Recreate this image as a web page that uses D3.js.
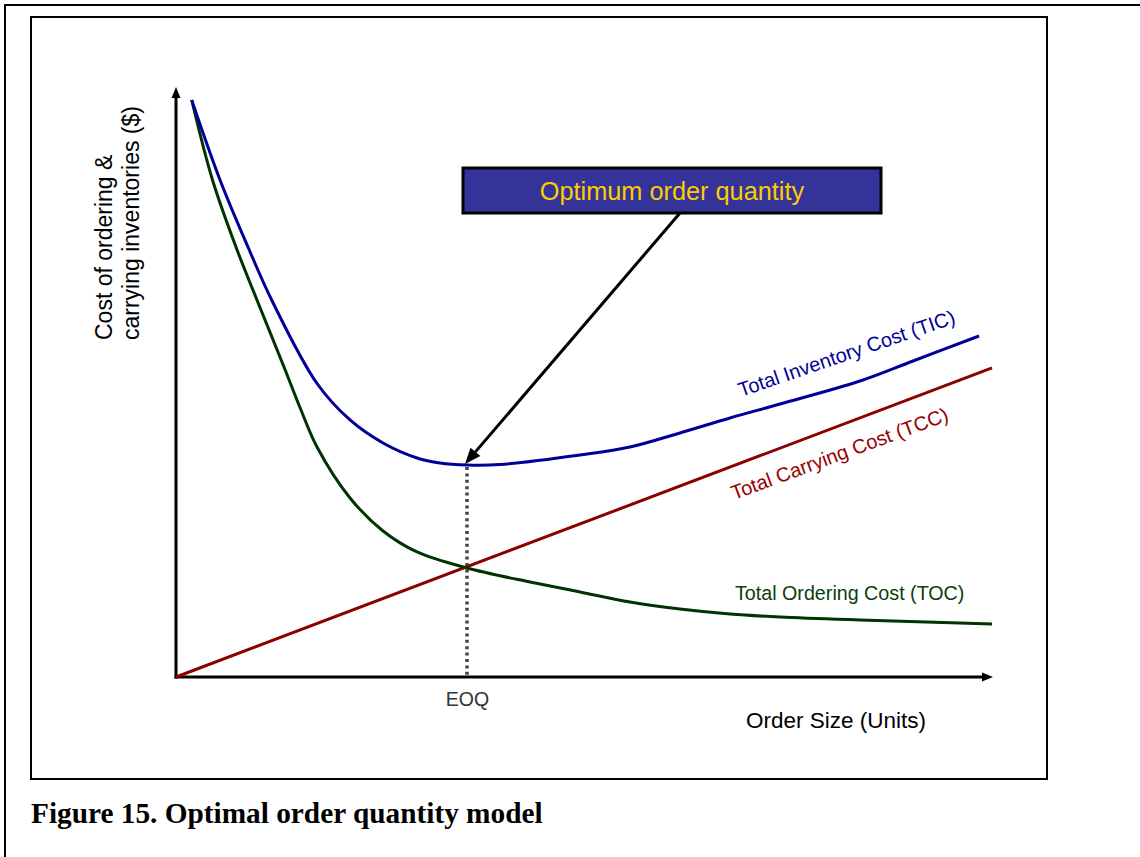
<!DOCTYPE html>
<html>
<head>
<meta charset="utf-8">
<script src="https://cdn.jsdelivr.net/npm/d3@7"></script>
<style>
  html, body { margin: 0; padding: 0; background: #fff; }
  svg { display: block; }
</style>
</head>
<body>
<svg id="chart" width="1140" height="857"></svg>
<script>
// Order size (x) and cost (y) on a 0–100 relative scale.
const ticX = [1.92, 5.39, 8.81, 11.71, 17.22, 21.30, 25.34, 29.50, 32.31, 35.62, 39.66, 49.45, 55.57, 61.69, 67.81, 73.93, 83.72, 90.21, 98.29];
const ticY = [97.80, 84.24, 72.88, 63.90, 49.83, 43.56, 39.66, 37.12, 36.27, 35.93, 36.02, 37.63, 38.98, 41.36, 43.90, 46.27, 50.17, 53.56, 57.80];

const tocX = [1.92, 4.47, 7.34, 9.91, 13.22, 15.30, 17.26, 21.30, 25.34, 29.50, 35.62, 43.33, 49.45, 55.57, 61.69, 67.81, 73.93, 83.72, 99.88];
const tocY = [97.80, 84.24, 72.88, 63.90, 52.54, 45.25, 38.98, 30.34, 24.75, 21.19, 18.47, 16.10, 14.41, 12.71, 11.53, 10.68, 10.17, 9.66, 8.98];

const tccX = [0, 99.88];
const tccY = [0, 52.4];

const eoq = 35.62;
const eoqCost = 35.93;

const seriesLabels = ["Total Inventory Cost (TIC)", "Total Carrying Cost (TCC)", "Total Ordering Cost (TOC)"];
const eoqLabel = "EOQ";
const xTitle = "Order Size (Units)";
const yTitle = ["Cost of ordering &", "carrying inventories ($)"];
const calloutText = "Optimum order quantity";
const caption = "Figure 15. Optimal order quantity model";

const svg = d3.select("#chart");
const sans = "'Liberation Sans', Arial, Helvetica, sans-serif";

// Frames
svg.append("path").attr("d", "M5,857V5H1140")
  .attr("fill", "none").attr("stroke", "#000").attr("stroke-width", 2);
svg.append("rect").attr("x", 31).attr("y", 17).attr("width", 1016).attr("height", 762)
  .attr("fill", "none").attr("stroke", "#000").attr("stroke-width", 2);

const x = d3.scaleLinear().domain([0, 100]).range([176, 993]);
const y = d3.scaleLinear().domain([0, 100]).range([677, 87]);

// Axes with arrowheads
const axisColor = "#000";
svg.append("line")
  .attr("x1", x(0)).attr("y1", y(0) + 1.5).attr("x2", x(0)).attr("y2", y(100) + 8)
  .attr("stroke", axisColor).attr("stroke-width", 3);
svg.append("path")
  .attr("d", `M${x(0)},${y(100)}L${x(0) - 4.5},${y(100) + 11}L${x(0) + 4.5},${y(100) + 11}Z`)
  .attr("fill", axisColor);
svg.append("line")
  .attr("x1", x(0) - 1.5).attr("y1", y(0)).attr("x2", x(100) - 8).attr("y2", y(0))
  .attr("stroke", axisColor).attr("stroke-width", 3);
svg.append("path")
  .attr("d", `M${x(100)},${y(0)}L${x(100) - 11},${y(0) - 4.5}L${x(100) - 11},${y(0) + 4.5}Z`)
  .attr("fill", axisColor);

// EOQ tick label via a bottom axis
const xAxis = d3.axisBottom(x).tickValues([eoq]).tickFormat(() => eoqLabel).tickSize(0).tickPadding(10);
const gx = svg.append("g").attr("transform", `translate(0,${y(0)})`).call(xAxis);
gx.select(".domain").remove();
gx.selectAll("text").attr("font-family", sans).attr("font-size", 19.5).attr("fill", "#333").attr("dy", "0.95em");

// Dotted drop line at EOQ
svg.append("line")
  .attr("x1", x(eoq)).attr("x2", x(eoq)).attr("y1", y(eoqCost) + 2).attr("y2", y(0))
  .attr("stroke", "#444").attr("stroke-width", 3.5).attr("stroke-dasharray", "3,3.4");

const line = d3.line().x(d => x(d[0])).y(d => y(d[1])).curve(d3.curveCatmullRom.alpha(0.5));
const zip = (a, b) => a.map((v, i) => [v, b[i]]);

svg.append("path").datum(zip(tccX, tccY)).attr("d", line)
  .attr("fill", "none").attr("stroke", "#8B0000").attr("stroke-width", 3);
svg.append("path").datum(zip(tocX, tocY)).attr("d", line)
  .attr("fill", "none").attr("stroke", "#003300").attr("stroke-width", 3);
svg.append("path").datum(zip(ticX, ticY)).attr("d", line)
  .attr("fill", "none").attr("stroke", "#000099").attr("stroke-width", 3);

// Series labels
svg.append("text").attr("transform", "translate(741,397) rotate(-19)")
  .attr("font-family", sans).attr("font-size", 20).attr("fill", "#000099").text(seriesLabels[0]);
svg.append("text").attr("transform", "translate(734,500) rotate(-20.3)")
  .attr("font-family", sans).attr("font-size", 20).attr("fill", "#990000").text(seriesLabels[1]);
svg.append("text").attr("x", 735).attr("y", 600)
  .attr("font-family", sans).attr("font-size", 19.7).attr("fill", "#0b3d0b").text(seriesLabels[2]);

// Axis titles
svg.append("text").attr("x", 746).attr("y", 728)
  .attr("font-family", sans).attr("font-size", 22.5).attr("fill", "#000").text(xTitle);
yTitle.forEach((t, i) => {
  svg.append("text")
    .attr("transform", `translate(${112 + i * 27},340) rotate(-90)`)
    .attr("font-family", sans).attr("font-size", 23).attr("fill", "#000").text(t);
});

// Callout box and arrow to the minimum of the total cost curve
const box = { x: 463, y: 168, w: 418, h: 45 };
const tipX = x(eoq) - 2, tipY = y(eoqCost) - 1;
const fromX = 680, fromY = box.y + box.h;
const ang = Math.atan2(tipY - fromY, tipX - fromX);
const headLen = 16, headHalf = 6.5;
const bx = tipX - headLen * Math.cos(ang), by = tipY - headLen * Math.sin(ang);
svg.append("line").attr("x1", fromX).attr("y1", fromY).attr("x2", bx).attr("y2", by)
  .attr("stroke", "#000").attr("stroke-width", 3);
svg.append("path")
  .attr("d", `M${tipX},${tipY}L${bx + headHalf * Math.sin(ang)},${by - headHalf * Math.cos(ang)}L${bx - headHalf * Math.sin(ang)},${by + headHalf * Math.cos(ang)}Z`)
  .attr("fill", "#000");

svg.append("rect").attr("x", box.x).attr("y", box.y).attr("width", box.w).attr("height", box.h)
  .attr("fill", "#333399").attr("stroke", "#000").attr("stroke-width", 3);
svg.append("text").attr("x", box.x + box.w / 2).attr("y", box.y + 32)
  .attr("text-anchor", "middle").attr("font-family", sans).attr("font-size", 25.3)
  .attr("fill", "#FFCC00").text(calloutText);

// Caption
svg.append("text").attr("x", 31).attr("y", 823)
  .attr("font-family", "'Liberation Serif', 'Times New Roman', serif").attr("font-weight", "bold")
  .attr("font-size", 29.3).attr("fill", "#000").text(caption);
</script>
</body>
</html>
